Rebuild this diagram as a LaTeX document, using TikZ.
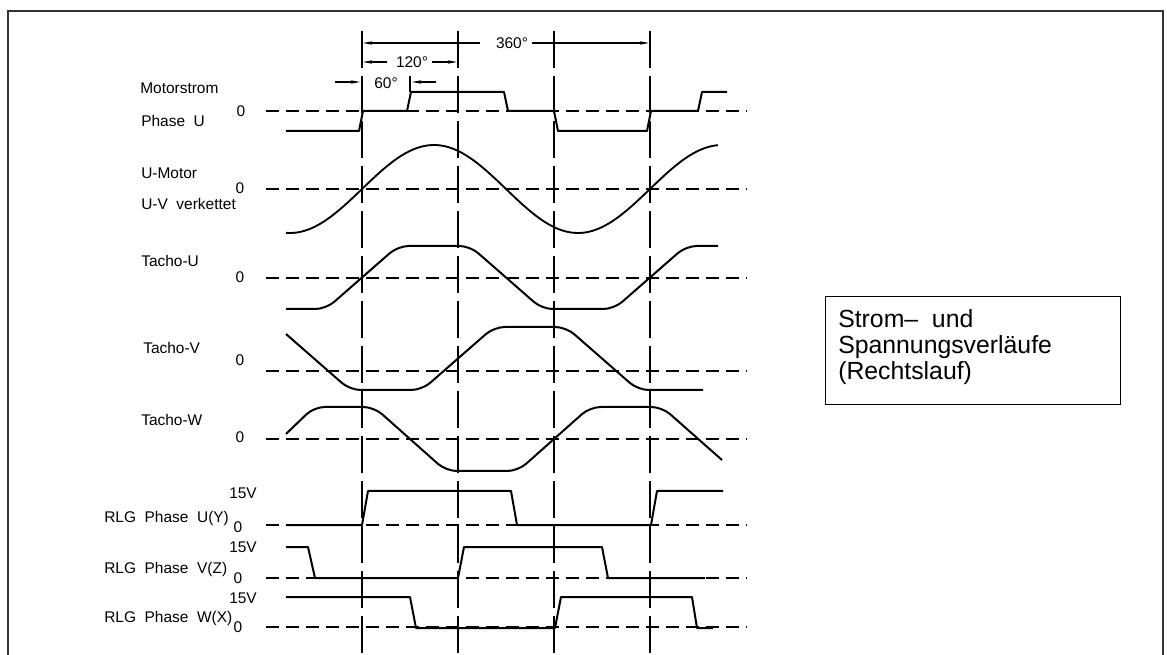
\documentclass[tikz,border=0pt]{standalone}
\usepackage{fontspec}
\setmainfont{Liberation Sans}
\usetikzlibrary{arrows.meta}
\begin{document}
\begin{tikzpicture}[x=0.75pt,y=-0.75pt,
  wave/.style={line width=1.5pt,line join=round},
  zline/.style={line width=0.9pt,dash pattern=on 9.75pt off 5.25pt},
  vline/.style={line width=0.9pt,dash pattern=on 27.75pt off 6pt},
  lbl/.style={inner sep=0pt,anchor=west,font=\fontsize{11.6}{14}\selectfont,text height=8.3pt,text depth=0pt},
  zlbl/.style={lbl,anchor=center},
  dimarrow/.style={line width=0.8pt,-{Stealth[length=7pt,width=2.6pt]}},
  frameline/.style={line width=1.5pt,draw=black!80}]
\useasboundingbox (0,0) rectangle (1167,655);
% frame
\draw[frameline] (8,655) -- (8,11) -- (1163,11) -- (1163,655);
% vertical reference lines
\foreach \xx/\nm in {362/va,458/vb,554/vc,650/vd}{
  \coordinate (\nm t) at (\xx,31);
  \coordinate (\nm b) at (\xx,655);
  \draw[vline] (\nm t) -- (\nm b);
}
% zero lines
\foreach \yy/\nm in {111/za,189/zb,278/zc,371/zd,439/ze,525/zf,578/zg,627/zh}{
  \coordinate (\nm l) at (266,\yy);
  \coordinate (\nm r) at (747,\yy);
  \draw[zline] (\nm l) -- (\nm r);
}
% dimensions
\node[zlbl] (d360) at (512,43) {360°};
\node[zlbl] (d120) at (412,62) {120°};
\node[zlbl] (d60) at (386,83) {60°};
\coordinate (a1) at (480,43); \coordinate (a1e) at (363,43);
\coordinate (a2) at (532,43); \coordinate (a2e) at (649,43);
\draw[dimarrow] (a1) -- (a1e);
\draw[dimarrow] (a2) -- (a2e);
\coordinate (b1) at (387,62); \coordinate (b1e) at (363,62);
\coordinate (b2) at (432,62); \coordinate (b2e) at (457,62);
\draw[dimarrow] (b1) -- (b1e);
\draw[dimarrow] (b2) -- (b2e);
\coordinate (c1) at (335,82); \coordinate (c1e) at (360,82);
\coordinate (c2) at (436,82); \coordinate (c2e) at (412,82);
\draw[dimarrow] (c1) -- (c1e);
\draw[dimarrow] (c2) -- (c2e);
\coordinate (e1) at (410,76); \coordinate (e2) at (410,92);
\draw[line width=0.9pt] (e1) -- (e2);
% labels
\node[lbl] (l1) at (140,88) {Motorstrom};
\node[lbl] (l2) at (141,121) {Phase\ \ U};
\node[zlbl] (z1) at (241,111) {0};
\node[lbl] (l3) at (141,173) {U-Motor};
\node[zlbl] (z2) at (240,188) {0};
\node[lbl] (l4) at (141,204) {U-V\ \ verkettet};
\node[lbl] (l5) at (141,261) {Tacho-U};
\node[zlbl] (z3) at (240,277) {0};
\node[lbl] (l6) at (143,348) {Tacho-V};
\node[zlbl] (z4) at (240,360) {0};
\node[lbl] (l7) at (141,420) {Tacho-W};
\node[zlbl] (z5) at (240,437) {0};
\node[lbl] (v1) at (229,493) {15V};
\node[lbl] (l8) at (104,517) {RLG\ \ Phase\ \ U(Y)};
\node[zlbl] (z6) at (238,527) {0};
\node[lbl] (v2) at (229,547) {15V};
\node[lbl] (l9) at (104,568) {RLG\ \ Phase\ \ V(Z)};
\node[zlbl] (z7) at (238,578) {0};
\node[lbl] (v3) at (229,598) {15V};
\node[lbl] (l10) at (104,617) {RLG\ \ Phase\ \ W(X)};
\node[zlbl] (z8) at (238,627) {0};
% Motorstrom Phase U
\draw[wave] (286,131) -- (359,131) -- (363,111) -- (407,111) -- (411,92) -- (504,92) -- (508,111) -- (554,111) -- (558,131) -- (647,131) -- (651,111) -- (698,111) -- (702,92) -- (727,92);
% U-Motor sine
\draw[wave,line width=1.4pt] plot[domain=286:718,samples=120,smooth] (\x,{189-44*sin((\x-362)*1.25)});
% Tacho U, V, W
\draw[wave,rounded corners=8pt] (286,309) -- (326,309) -- (398,246) -- (470,246) -- (542,309) -- (614,309) -- (686,246) -- (718,246);
\draw[wave,rounded corners=8pt] (286,334) -- (350,390) -- (422,390) -- (494,327) -- (566,327) -- (638,390) -- (703,390);
\draw[wave,rounded corners=8pt] (286,434) -- (314,407) -- (374,407) -- (446,471) -- (518,471) -- (590,407) -- (662,407) -- (722,460);
% RLG signals
\draw[wave] (286,525) -- (362,525) -- (368,491) -- (511,491) -- (517,525) -- (651,525) -- (657,491) -- (723,491);
\draw[wave] (286,547) -- (308,547) -- (315,578) -- (458,578) -- (464,547) -- (602,547) -- (608,578) -- (705,578);
\draw[wave] (286,597) -- (410,597) -- (416,628) -- (555,628) -- (561,597) -- (692,597) -- (697,628) -- (713,628);
% title box
\node[draw,line width=1pt,minimum width=221.25pt,minimum height=81pt,anchor=north west,inner sep=0pt] (box) at (825,296) {};
\node[inner sep=0pt,anchor=base west,font=\fontsize{18.6}{19.5}\selectfont] (t1) at (838,328) {Strom–\ \ und};
\node[inner sep=0pt,anchor=base west,font=\fontsize{18.6}{19.5}\selectfont] (t2) at (838,354) {Spannungsverläufe};
\node[inner sep=0pt,anchor=base west,font=\fontsize{18.6}{19.5}\selectfont] (t3) at (838,380) {(Rechtslauf)};
\end{tikzpicture}
\end{document}
